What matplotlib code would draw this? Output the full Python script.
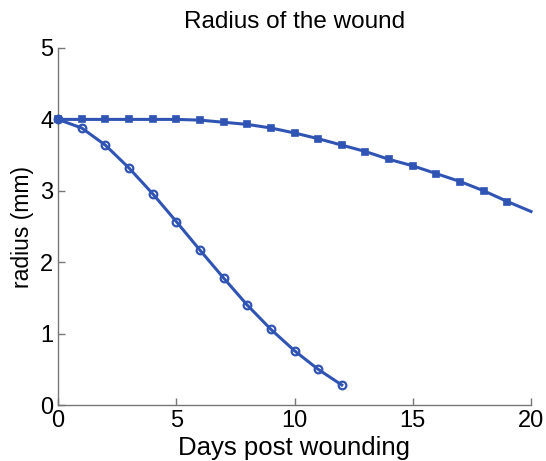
import matplotlib
matplotlib.use("Agg")
import matplotlib.pyplot as plt
import numpy as np

plt.rcParams['font.family'] = ['Liberation Sans', 'DejaVu Sans']

days_circle = [0, 1, 2, 3, 4, 5, 6, 7, 8, 9, 10, 11, 12]
radius_circle = [4.00, 3.88, 3.64, 3.32, 2.96, 2.57, 2.17, 1.78, 1.40, 1.06, 0.76, 0.50, 0.28]

days_square = [0, 1, 2, 3, 4, 5, 6, 7, 8, 9, 10, 11, 12, 13, 14, 15, 16, 17, 18, 19, 20]
radius_square = [4.00, 4.00, 4.00, 4.00, 4.00, 4.00, 3.99, 3.96, 3.93, 3.88, 3.81, 3.73,
                 3.64, 3.55, 3.44, 3.35, 3.24, 3.13, 3.00, 2.85, 2.71]

xticks = [0, 5, 10, 15, 20]
yticks = [0, 1, 2, 3, 4, 5]

color = '#3054b4'

fig = plt.figure(figsize=(5.46, 4.61), dpi=100)
ax = fig.add_axes([58/546, 1-405/461, (531-58)/546, (405-48)/461])

ax.plot(days_square, radius_square, color=color, lw=2.2, marker='s', markersize=5,
        markerfacecolor=color, markeredgecolor=color, markeredgewidth=1.2,
        markevery=list(range(len(days_square)-1)),
        clip_on=False, zorder=3)
ax.plot(days_circle, radius_circle, color=color, lw=2.2, marker='o', markersize=5.5,
        markerfacecolor='none', markeredgecolor=color, markeredgewidth=1.6,
        clip_on=False, zorder=3)

ax.set_xlim(0, 20)
ax.set_ylim(0, 5)
ax.set_xticks(xticks)
ax.set_yticks(yticks)
ax.spines['top'].set_visible(False)
ax.spines['right'].set_visible(False)
for s in ['left', 'bottom']:
    ax.spines[s].set_color('#777777')
    ax.spines[s].set_linewidth(1.0)
ax.tick_params(direction='in', length=5, width=1.0, color='#777777', labelsize=17, pad=3.5)

ax.set_title('Radius of the wound', fontsize=17.5, pad=14.5)
ax.set_xlabel('Days post wounding', fontsize=18.5, labelpad=3)
ax.set_ylabel('radius (mm)', fontsize=16.5, labelpad=4)

fig.savefig('out.png', dpi=100)
